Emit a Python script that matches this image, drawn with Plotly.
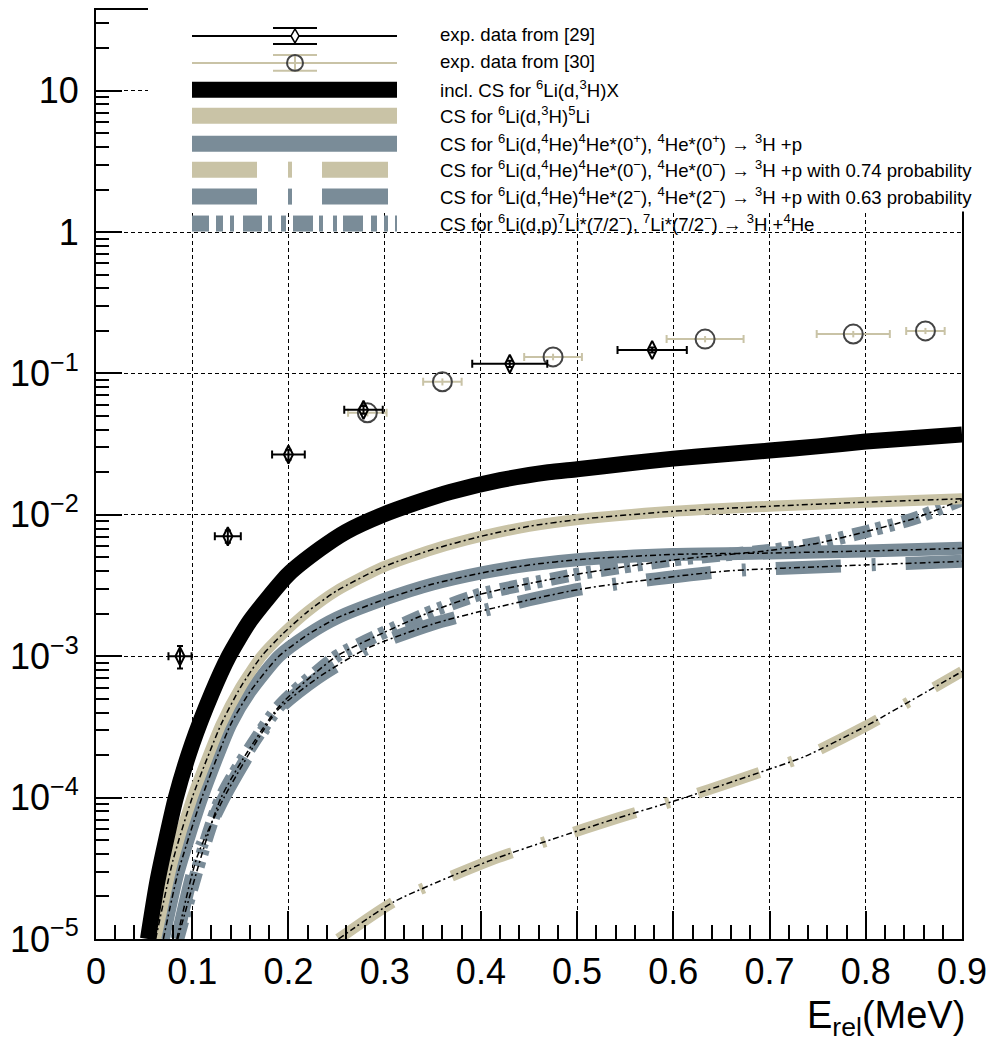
import plotly.graph_objects as go

# ---------------- data ----------------
E_incl = [0.054, 0.064, 0.083, 0.10, 0.12, 0.138, 0.16, 0.20, 0.233, 0.26, 0.298, 0.33, 0.368,
          0.42, 0.47, 0.50, 0.55, 0.60, 0.65, 0.70, 0.75, 0.80, 0.85, 0.90]
CS_incl = [1.0e-5, 2.6e-5, 1.0e-4, 2.4e-4, 5.4e-4, 1.0e-3, 1.78e-3, 3.8e-3, 5.75e-3, 7.6e-3, 1.0e-2, 1.2e-2,
           1.45e-2, 1.76e-2, 2.0e-2, 2.1e-2, 2.3e-2, 2.5e-2, 2.67e-2, 2.85e-2, 3.05e-2, 3.3e-2, 3.5e-2, 3.7e-2]

E_5Li = [0.062, 0.08, 0.10, 0.13, 0.15, 0.172, 0.195, 0.22, 0.25, 0.298, 0.35, 0.402, 0.45, 0.503,
         0.60, 0.70, 0.80, 0.90]
CS_5Li = [1.0e-5, 3.6e-5, 1.0e-4, 3.3e-4, 6.0e-4, 1.0e-3, 1.46e-3, 2.07e-3, 2.9e-3, 4.27e-3, 5.7e-3, 7.1e-3,
          8.3e-3, 9.3e-3, 1.06e-2, 1.15e-2, 1.23e-2, 1.3e-2]

E_0p = [0.07, 0.085, 0.11, 0.14, 0.16, 0.19, 0.22, 0.25, 0.298, 0.35, 0.402, 0.45, 0.503,
        0.60, 0.70, 0.80, 0.90]
CS_0p = [1.0e-5, 2.9e-5, 1.0e-4, 3.3e-4, 5.6e-4, 1.0e-3, 1.42e-3, 1.86e-3, 2.5e-3, 3.24e-3, 3.9e-3, 4.42e-3,
         4.84e-3, 5.25e-3, 5.37e-3, 5.55e-3, 5.8e-3]

E_0m = [0.252, 0.31, 0.41, 0.475, 0.543, 0.606, 0.669, 0.737, 0.80, 0.863, 0.90]
CS_0m = [1.0e-5, 1.84e-5, 3.6e-5, 5.1e-5, 7.2e-5, 9.7e-5, 1.35e-4, 1.96e-4, 3.2e-4, 5.6e-4, 7.8e-4]

E_2m = [0.084, 0.105, 0.133, 0.188, 0.230, 0.282, 0.350, 0.413, 0.503, 0.65, 0.78, 0.90]
CS_2m = [1.0e-5, 3.8e-5, 1.0e-4, 4.1e-4, 7.0e-4, 1.14e-3, 1.69e-3, 2.19e-3, 2.98e-3, 3.98e-3, 4.37e-3, 4.69e-3]

E_7Li = [0.085, 0.13, 0.19, 0.25, 0.30, 0.35, 0.40, 0.50, 0.60, 0.70, 0.75, 0.80, 0.85, 0.90]
CS_7Li = [1.0e-5, 1.0e-4, 4.4e-4, 1.0e-3, 1.48e-3, 2.09e-3, 2.75e-3, 3.8e-3, 4.8e-3, 5.6e-3, 6.3e-3,
          7.6e-3, 9.4e-3, 1.28e-2]

exp29_E = [0.0873, 0.137, 0.200, 0.278, 0.430, 0.578]
exp29_CS = [1.0e-3, 7.05e-3, 2.67e-2, 5.53e-2, 0.117, 0.1466]
exp29_dE = [0.012, 0.0135, 0.017, 0.020, 0.039, 0.036]
exp29_dCS = [1.8e-4, 7e-4, 2.2e-3, 3.5e-3, 6e-3, 6e-3]

exp30_E = [0.282, 0.360, 0.475, 0.633, 0.787, 0.862]
exp30_CS = [0.0527, 0.0873, 0.131, 0.175, 0.190, 0.200]
exp30_dE = [0.020, 0.020, 0.030, 0.040, 0.038, 0.020]
exp30_dCS = [3e-3, 5e-3, 7e-3, 9e-3, 1e-2, 1e-2]

x_ticks = [0, 0.1, 0.2, 0.3, 0.4, 0.5, 0.6, 0.7, 0.8, 0.9]
x_ticklabels = ["0", "0.1", "0.2", "0.3", "0.4", "0.5", "0.6", "0.7", "0.8", "0.9"]
y_ticks = [1e-5, 1e-4, 1e-3, 1e-2, 1e-1, 1, 10]
y_ticklabels = ["10<sup>\u22125</sup>", "10<sup>\u22124</sup>", "10<sup>\u22123</sup>",
                "10<sup>\u22122</sup>", "10<sup>\u22121</sup>", "1", "10"]

legend_labels = [
    "exp. data from [29]",
    "exp. data from [30]",
    "incl. CS for <sup>6</sup>Li(d,<sup>3</sup>H)X",
    "CS for <sup>6</sup>Li(d,<sup>3</sup>H)<sup>5</sup>Li",
    "CS for <sup>6</sup>Li(d,<sup>4</sup>He)<sup>4</sup>He*(0<sup>+</sup>), <sup>4</sup>He*(0<sup>+</sup>) \u2192 <sup>3</sup>H +p",
    "CS for <sup>6</sup>Li(d,<sup>4</sup>He)<sup>4</sup>He*(0<sup>\u2212</sup>), <sup>4</sup>He*(0<sup>\u2212</sup>) \u2192 <sup>3</sup>H +p with 0.74 probability",
    "CS for <sup>6</sup>Li(d,<sup>4</sup>He)<sup>4</sup>He*(2<sup>\u2212</sup>), <sup>4</sup>He*(2<sup>\u2212</sup>) \u2192 <sup>3</sup>H +p with 0.63 probability",
    "CS for <sup>6</sup>Li(d,p)<sup>7</sup>Li*(7/2<sup>\u2212</sup>), <sup>7</sup>Li*(7/2<sup>\u2212</sup>) \u2192 <sup>3</sup>H +<sup>4</sup>He",
]

# ---------------- styling ----------------
TAN = "#c9c3a6"
SLATE = "#7a8c98"
BLACK = "#000000"
DASH_LONG = "65px,31px,4px,30px"
DASH_DDOT = "18px,6px,6px,7px,5px,9px"
THIN = "6px,3px,2px,3px"
FONT = "Liberation Sans, Arial, sans-serif"
LFONT = "Liberation Sans, Arial, sans-serif"

OFF = 8                      # page body margin added by the html page
PL, PR, PT, PB = 96, 962, 8, 939   # plot frame in page pixels
W, H = 987, 1042
L, R, T, B = PL - OFF, PR - OFF, PT - OFF, PB - OFF


def px2x(px):
    return (px - PL) / (PR - PL)


def px2y(py):
    return (PB - py) / (PB - PT)


fig = go.Figure()

curves = [
    (E_0m, CS_0m, TAN, 11, DASH_LONG),
    (E_2m, CS_2m, SLATE, 13, DASH_LONG),
    (E_7Li, CS_7Li, SLATE, 13, DASH_DDOT),
    (E_0p, CS_0p, SLATE, 13, "solid"),
    (E_5Li, CS_5Li, TAN, 11, "solid"),
    (E_incl, CS_incl, BLACK, 16, "solid"),
]
for ex, cs, col, w, dash in curves:
    fig.add_trace(go.Scatter(x=ex, y=cs, mode="lines", showlegend=False,
                             line=dict(color=col, width=w, dash=dash, shape="spline", smoothing=0.6),
                             hoverinfo="skip"))
for ex, cs in [(E_0m, CS_0m), (E_2m, CS_2m), (E_7Li, CS_7Li), (E_0p, CS_0p), (E_5Li, CS_5Li)]:
    fig.add_trace(go.Scatter(x=ex, y=cs, mode="lines", showlegend=False,
                             line=dict(color="black", width=1.5, dash=THIN, shape="spline", smoothing=0.6),
                             hoverinfo="skip"))

fig.add_trace(go.Scatter(
    x=exp30_E, y=exp30_CS, mode="markers", showlegend=False,
    error_x=dict(type="data", array=exp30_dE, color=TAN, thickness=2, width=4),
    error_y=dict(type="data", array=exp30_dCS, color=TAN, thickness=2, width=0),
    marker=dict(symbol="circle", size=19, color="rgba(255,255,255,0)",
                line=dict(color="#444444", width=2))))
fig.add_trace(go.Scatter(
    x=exp29_E, y=exp29_CS, mode="markers", showlegend=False,
    error_x=dict(type="data", array=exp29_dE, color="black", thickness=2, width=4),
    error_y=dict(type="data", array=exp29_dCS, color="black", thickness=2, width=3),
    marker=dict(symbol="diamond-tall-open", size=13, color="black", line=dict(width=2))))

shapes = []
annotations = []
shapes.append(dict(type="rect", xref="paper", yref="paper", layer="above",
                   x0=px2x(148), x1=px2x(1000), y0=px2y(210), y1=px2y(0),
                   fillcolor="white", line=dict(width=0)))

ys = [34, 61, 88, 114, 142, 168, 195, 222]
lx0, lx1, lxm = 192, 397, 295


def hline(x0, x1, y, col, w):
    return dict(type="line", xref="paper", yref="paper", layer="above",
                x0=px2x(x0), x1=px2x(x1), y0=px2y(y), y1=px2y(y),
                line=dict(color=col, width=w))


def vline(x, y0, y1, col, w):
    return dict(type="line", xref="paper", yref="paper", layer="above",
                x0=px2x(x), x1=px2x(x), y0=px2y(y0), y1=px2y(y1),
                line=dict(color=col, width=w))


# entry 1 : exp. data [29]
shapes.append(hline(lx0, lx1, ys[0], "black", 2))
shapes.append(vline(lxm, ys[0] - 8, ys[0] + 8, "black", 2))
shapes.append(hline(lxm - 22, lxm + 22, ys[0] - 8, "black", 2))
shapes.append(hline(lxm - 22, lxm + 22, ys[0] + 8, "black", 2))
dpath = "M {} {} L {} {} L {} {} L {} {} Z".format(
    px2x(lxm), px2y(ys[0] - 7), px2x(lxm + 4), px2y(ys[0]),
    px2x(lxm), px2y(ys[0] + 7), px2x(lxm - 4), px2y(ys[0]))
shapes.append(dict(type="path", xref="paper", yref="paper", layer="above", path=dpath,
                   fillcolor="white", line=dict(color="black", width=1.5)))
# entry 2 : exp. data [30]
shapes.append(hline(lx0, lx1, ys[1], TAN, 2))
shapes.append(hline(lxm - 22, lxm + 22, ys[1] - 8, TAN, 2))
shapes.append(hline(lxm - 22, lxm + 22, ys[1] + 8, TAN, 2))
shapes.append(vline(lxm, ys[1] - 8, ys[1] + 8, TAN, 2))
shapes.append(dict(type="circle", xref="paper", yref="paper", layer="above",
                   x0=px2x(lxm - 8), x1=px2x(lxm + 8), y0=px2y(ys[1] + 8), y1=px2y(ys[1] - 8),
                   line=dict(color="#444444", width=2)))
# band samples
shapes.append(hline(lx0, lx1, ys[2], "black", 16))
shapes.append(hline(lx0, lx1, ys[3], TAN, 16))
shapes.append(hline(lx0, lx1, ys[4], SLATE, 16))
for seg in [(192, 257), (288, 292), (322, 388)]:
    shapes.append(hline(seg[0], seg[1], ys[5], TAN, 16))
    shapes.append(hline(seg[0], seg[1], ys[6], SLATE, 16))
for seg in [(192, 209), (216, 223), (230, 234), (243, 262), (268, 272), (281, 286),
            (293, 313), (319, 323), (333, 337), (343, 363), (371, 377), (384, 388), (395, 397)]:
    shapes.append(hline(seg[0], seg[1], ys[7], SLATE, 16))

for yv, txt in zip(ys, legend_labels):
    annotations.append(dict(xref="paper", yref="paper", x=px2x(438), y=px2y(yv - 1),
                            xanchor="left", yanchor="middle", text=txt, showarrow=False,
                            font=dict(family=LFONT, size=18.6, color="black")))

annotations.append(dict(xref="paper", yref="paper", x=px2x(967), y=px2y(1018),
                        xanchor="right", yanchor="middle", showarrow=False,
                        text="E<sub>rel</sub>(MeV)", font=dict(family=FONT, size=38, color="black")))

grid = dict(showgrid=True, gridcolor="black", gridwidth=1, griddash="4px,3px")

fig.update_layout(
    width=W, height=H,
    margin=dict(l=L, r=W - R, t=T, b=H - B, pad=0),
    paper_bgcolor="white", plot_bgcolor="white",
    shapes=shapes, annotations=annotations, showlegend=False,
    xaxis=dict(range=[0, 0.9], tickvals=x_ticks, ticktext=x_ticklabels,
               ticks="inside", ticklen=28, tickwidth=1.5, tickcolor="black",
               minor=dict(dtick=0.02, tick0=0, ticks="inside", ticklen=14, tickwidth=1.5,
                          tickcolor="black", showgrid=False),
               showline=True, linecolor="black", linewidth=2, mirror=True,
               tickfont=dict(family=FONT, size=36, color="black"), ticklabelstandoff=0,
               zeroline=False, **grid),
    yaxis=dict(type="log", range=[-5, 1.571], tickvals=y_ticks, ticktext=y_ticklabels,
               ticks="inside", ticklen=26, tickwidth=1.5, tickcolor="black",
               minor=dict(dtick="D1", ticks="inside", ticklen=13, tickwidth=1.5,
                          tickcolor="black", showgrid=False),
               showline=True, linecolor="black", linewidth=2, mirror=True,
               tickfont=dict(family=FONT, size=36, color="black"), ticklabelstandoff=8,
               zeroline=False, **grid),
)

fig.write_html("out.html")
